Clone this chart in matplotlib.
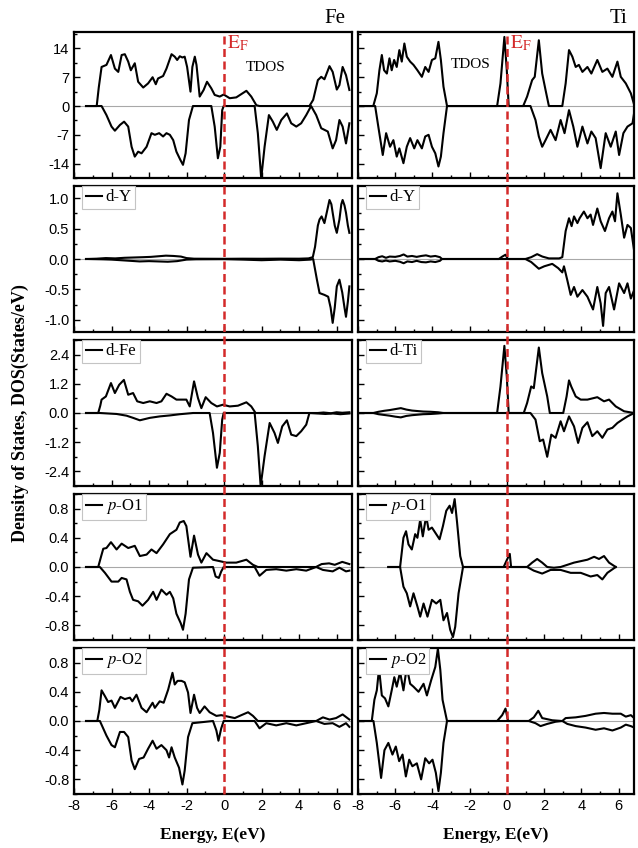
import matplotlib
matplotlib.use('Agg')
import matplotlib.pyplot as plt
import matplotlib.transforms as mtransforms
from matplotlib.lines import Line2D
from matplotlib.ticker import FixedLocator, MultipleLocator, FormatStrFormatter

plt.rcParams['font.family'] = 'Liberation Sans'
plt.rcParams['axes.unicode_minus'] = False
plt.rcParams['mathtext.fontset'] = 'stix'
SERIF = 'Liberation Serif'

# ---------------------------------------------------------------------------
# DOS curves: (energy eV, DOS) pairs, spin up / spin down
# ---------------------------------------------------------------------------
fe_tdos_up = [(-7.36, 0), (-6.79, 0), (-6.68, 4.5), (-6.53, 9.5), (-6.27, 10.0), (-6.03, 12.4), (-5.82, 9.1),
              (-5.64, 8.3), (-5.46, 12.4), (-5.29, 12.6), (-5.11, 10.8), (-4.97, 8.7), (-4.76, 10.4), (-4.58, 5.9),
              (-4.31, 4.5), (-4.05, 5.5), (-3.81, 7.0), (-3.64, 5.3), (-3.52, 6.7), (-3.25, 7.3), (-3.07, 9.1),
              (-2.80, 12.6), (-2.63, 12.0), (-2.50, 11.2), (-2.36, 12.1), (-2.22, 11.8), (-2.10, 12.0), (-1.97, 9.5),
              (-1.79, 3.5), (-1.69, 9.5), (-1.56, 12.0), (-1.47, 10.0), (-1.30, 2.3), (-1.09, 3.9), (-0.91, 5.9),
              (-0.68, 4.3), (-0.50, 2.7), (-0.23, 2.3), (-0.02, 2.8), (0.30, 1.9), (0.65, 2.1), (1.19, 3.7),
              (1.45, 2.3), (1.72, 0.2), (1.89, 0), (4.55, 0), (4.75, 1.5), (5.00, 6.3), (5.18, 7.1), (5.35, 6.5),
              (5.62, 9.7), (5.79, 8.3), (6.01, 4.0), (6.15, 5.1), (6.32, 9.5), (6.50, 7.5), (6.68, 3.9)]
fe_tdos_dn = [(-7.36, 0), (-6.53, 0), (-6.27, -2.2), (-6.0, -5.0), (-5.82, -6.0), (-5.55, -4.6), (-5.33, -3.8),
              (-5.11, -5.0), (-4.93, -9.9), (-4.76, -12.3), (-4.58, -11.1), (-4.40, -11.5), (-4.13, -9.9),
              (-3.87, -6.6), (-3.69, -7.0), (-3.46, -6.6), (-3.25, -7.4), (-3.07, -6.6), (-2.89, -7.0), (-2.71, -8.3),
              (-2.54, -11.1), (-2.33, -13.1), (-2.19, -14.3), (-2.05, -11.5), (-1.87, -3.4), (-1.66, 0), (-0.68, 0),
              (-0.50, -5.0), (-0.33, -12.7), (-0.20, -9.9), (-0.10, -1.0), (-0.02, 0), (1.63, 0), (1.80, -6.6),
              (1.98, -17.6), (2.16, -9.9), (2.39, -2.2), (2.60, -3.8), (2.81, -5.8), (3.05, -3.4), (3.35, -1.8),
              (3.58, -4.2), (3.85, -5.0), (4.11, -4.2), (4.38, -2.2), (4.64, 0), (4.91, -2.2), (5.18, -5.4),
              (5.53, -6.2), (5.79, -10.3), (5.97, -8.3), (6.15, -3.4), (6.32, -5.0), (6.50, -9.1), (6.68, -4.2)]

ti_tdos_up = [(-7.89, 0), (-7.18, 0), (-6.99, 3.1), (-6.85, 8.7), (-6.72, 12.4), (-6.60, 8.7), (-6.45, 7.9),
              (-6.31, 11.6), (-6.19, 8.7), (-6.06, 11.2), (-5.92, 9.5), (-5.78, 13.6), (-5.65, 10.8), (-5.51, 15.2),
              (-5.38, 12.0), (-5.20, 10.8), (-5.02, 10.0), (-4.81, 8.7), (-4.57, 7.1), (-4.39, 9.5), (-4.21, 8.3),
              (-4.03, 11.2), (-3.85, 11.6), (-3.68, 15.6), (-3.55, 11.2), (-3.41, 4.7), (-3.22, 0), (-0.53, 0),
              (-0.35, 5.5), (-0.14, 16.8), (-0.01, 8.7), (0.09, 0), (0.87, 0), (1.08, 2.3), (1.35, 6.3), (1.49, 7.1),
              (1.71, 16.0), (1.89, 7.9), (2.07, 3.9), (2.25, 0), (2.97, 0), (3.15, 5.5), (3.33, 13.6), (3.51, 12.0),
              (3.69, 9.5), (3.86, 10.0), (4.05, 8.3), (4.32, 9.5), (4.53, 7.9), (4.85, 11.2), (5.12, 8.3),
              (5.39, 9.1), (5.66, 7.1), (5.93, 10.8), (6.11, 7.1), (6.38, 5.5), (6.65, 3.1), (6.85, 0)]
ti_tdos_dn = [(-7.89, 0), (-7.08, 0), (-6.91, -5.0), (-6.67, -11.9), (-6.49, -6.6), (-6.28, -9.9), (-6.10, -8.3),
              (-5.92, -12.3), (-5.78, -10.3), (-5.56, -13.9), (-5.38, -9.9), (-5.20, -7.8), (-4.98, -10.3),
              (-4.81, -8.3), (-4.57, -10.3), (-4.39, -7.4), (-4.21, -7.0), (-4.03, -9.9), (-3.85, -11.5),
              (-3.68, -14.7), (-3.55, -12.3), (-3.41, -6.6), (-3.22, 0), (1.26, 0), (1.53, -3.4), (1.71, -7.4),
              (1.89, -9.9), (2.07, -8.3), (2.34, -5.8), (2.61, -8.3), (2.88, -3.4), (3.09, -6.6), (3.33, -1.0),
              (3.56, -5.0), (3.78, -9.9), (4.05, -5.0), (4.32, -9.1), (4.53, -6.2), (4.76, -7.8), (5.03, -15.1),
              (5.30, -6.6), (5.57, -9.9), (5.84, -6.2), (6.02, -11.9), (6.25, -6.6), (6.47, -5.0), (6.74, -4.2),
              (6.85, -1.0)]

fe_dy_up = [(-7.36, 0), (-6.8, 0.005), (-6.3, 0.015), (-5.8, 0.01), (-5.3, 0.02), (-4.8, 0.025), (-4.3, 0.03),
            (-3.9, 0.035), (-3.5, 0.045), (-3.1, 0.055), (-2.7, 0.05), (-2.3, 0.04), (-2.0, 0.015), (-1.6, 0.005),
            (0.0, 0.003), (1.0, 0.005), (2.0, 0.004), (3.0, 0.006), (4.0, 0.005), (4.5, 0.01), (4.73, 0.03),
            (4.85, 0.2), (5.0, 0.55), (5.09, 0.65), (5.2, 0.7), (5.35, 0.59), (5.5, 0.8), (5.62, 0.97), (5.72, 0.9),
            (5.79, 0.76), (5.9, 0.55), (6.01, 0.43), (6.15, 0.65), (6.25, 0.9), (6.32, 0.97), (6.42, 0.88),
            (6.50, 0.76), (6.6, 0.55), (6.68, 0.43)]
fe_dy_dn = [(-7.36, 0), (-6.5, -0.005), (-6.0, -0.01), (-5.5, -0.02), (-5.0, -0.03), (-4.5, -0.04), (-4.0, -0.035),
            (-3.5, -0.04), (-3.0, -0.045), (-2.5, -0.035), (-2.0, -0.01), (-1.5, -0.005), (0.0, -0.003), (1.0, -0.01),
            (2.0, -0.02), (3.0, -0.01), (4.0, -0.02), (4.6, -0.01), (4.75, 0), (4.82, -0.12), (4.95, -0.34),
            (5.09, -0.56), (5.35, -0.59), (5.55, -0.62), (5.68, -0.8), (5.79, -1.05), (5.9, -0.8), (6.01, -0.45),
            (6.15, -0.34), (6.3, -0.55), (6.42, -0.8), (6.50, -0.95), (6.6, -0.7), (6.68, -0.45)]

ti_dy_up = [(-7.9, 0), (-7.08, 0), (-6.9, 0.03), (-6.7, 0.045), (-6.5, 0.02), (-6.3, 0.04), (-6.0, 0.035),
            (-5.75, 0.05), (-5.55, 0.075), (-5.35, 0.04), (-5.1, 0.05), (-4.85, 0.035), (-4.6, 0.05), (-4.35, 0.06),
            (-4.1, 0.04), (-3.85, 0.05), (-3.6, 0.03), (-3.49, 0), (-0.44, 0), (-0.25, 0.04), (-0.08, 0.07),
            (0.05, 0), (0.99, 0), (1.3, 0.03), (1.62, 0.08), (1.9, 0.04), (2.25, 0.01), (2.8, 0.01), (2.97, 0.03),
            (3.15, 0.46), (3.33, 0.67), (3.47, 0.54), (3.60, 0.70), (3.78, 0.59), (3.90, 0.67), (4.13, 0.78),
            (4.32, 0.67), (4.49, 0.73), (4.62, 0.56), (4.85, 0.83), (5.03, 0.62), (5.26, 0.46), (5.48, 0.67),
            (5.66, 0.78), (5.80, 0.62), (5.93, 1.08), (6.11, 0.73), (6.29, 0.35), (6.47, 0.56), (6.65, 0.51),
            (6.83, 0.13)]
ti_dy_dn = [(-7.9, 0), (-7.08, 0), (-6.9, -0.03), (-6.7, -0.04), (-6.5, -0.025), (-6.3, -0.04), (-6.0, -0.03),
            (-5.75, -0.045), (-5.55, -0.07), (-5.35, -0.04), (-5.1, -0.05), (-4.85, -0.03), (-4.6, -0.05),
            (-4.35, -0.055), (-4.1, -0.04), (-3.85, -0.05), (-3.6, -0.03), (-3.49, 0), (0.99, 0), (1.3, -0.05),
            (1.71, -0.16), (2.0, -0.12), (2.43, -0.08), (2.75, -0.15), (2.97, -0.22), (3.06, -0.12), (3.24, -0.35),
            (3.42, -0.59), (3.60, -0.46), (3.78, -0.62), (4.05, -0.51), (4.32, -0.62), (4.62, -0.83), (4.85, -0.46),
            (5.03, -0.73), (5.16, -1.10), (5.30, -0.56), (5.48, -0.46), (5.75, -0.83), (6.02, -0.40), (6.29, -0.56),
            (6.47, -0.40), (6.65, -0.65), (6.83, -0.51)]

fe_dfe_up = [(-7.36, 0), (-6.71, 0), (-6.6, 0.3), (-6.53, 0.55), (-6.30, 0.68), (-6.03, 1.23), (-5.82, 0.82),
             (-5.59, 1.16), (-5.34, 1.36), (-5.11, 0.75), (-4.85, 0.82), (-4.63, 0.48), (-4.31, 0.41), (-3.96, 0.48),
             (-3.60, 0.41), (-3.34, 0.48), (-3.07, 0.79), (-2.80, 0.68), (-2.54, 0.55), (-2.01, 0.55), (-1.83, 0.27),
             (-1.60, 1.30), (-1.39, 0.61), (-1.21, 0.20), (-0.98, 0.65), (-0.68, 0.41), (-0.38, 0.27), (-0.06, 0.34),
             (0.30, 0.27), (0.74, 0.30), (1.19, 0.44), (1.45, 0.27), (1.68, 0), (5.0, 0), (5.3, 0.02), (5.7, -0.01),
             (6.0, 0.03), (6.3, 0.01), (6.68, 0.03)]
fe_dfe_dn = [(-7.36, 0), (-6.62, 0), (-5.73, -0.04), (-5.20, -0.11), (-4.85, -0.2), (-4.49, -0.3), (-3.96, -0.2),
             (-3.43, -0.14), (-2.89, -0.1), (-2.36, -0.05), (-1.65, 0), (-0.77, 0), (-0.59, -0.82), (-0.38, -2.25),
             (-0.23, -1.64), (-0.10, -0.27), (-0.02, 0), (1.63, 0), (1.80, -1.36), (1.95, -3.0), (2.16, -1.77),
             (2.43, -0.41), (2.69, -0.82), (2.87, -1.23), (3.10, -0.55), (3.35, -0.3), (3.58, -0.89), (3.85, -0.95),
             (4.11, -0.75), (4.38, -0.48), (4.55, 0), (5.0, -0.02), (5.4, -0.04), (5.8, -0.02), (6.2, -0.05),
             (6.68, -0.02)]

ti_dti_up = [(-7.9, 0), (-7.18, 0), (-6.9, 0.05), (-6.6, 0.09), (-6.3, 0.12), (-6.0, 0.16), (-5.7, 0.2),
             (-5.4, 0.14), (-5.1, 0.1), (-4.8, 0.08), (-4.5, 0.06), (-4.1, 0.05), (-3.7, 0.03), (-3.41, 0),
             (-0.53, 0), (-0.35, 1.09), (-0.14, 2.76), (-0.01, 1.50), (0.09, 0), (0.90, 0), (1.08, 0.41),
             (1.30, 1.09), (1.44, 1.02), (1.71, 2.69), (1.89, 1.64), (2.16, 0.68), (2.30, 0), (3.02, 0), (3.20, 0.68),
             (3.33, 1.34), (3.45, 1.09), (3.69, 0.68), (3.96, 0.55), (4.32, 0.55), (4.85, 0.65), (5.21, 0.48),
             (5.48, 0.55), (5.84, 0.27), (6.29, 0.07), (6.83, 0)]
ti_dti_dn = [(-7.9, 0), (-7.18, 0), (-6.9, -0.05), (-6.6, -0.08), (-6.3, -0.11), (-6.0, -0.15), (-5.7, -0.18),
             (-5.4, -0.12), (-5.1, -0.09), (-4.8, -0.07), (-4.5, -0.05), (-4.1, -0.04), (-3.7, -0.02), (-3.41, 0),
             (1.26, 0), (1.53, -0.27), (1.76, -1.16), (1.94, -1.09), (2.16, -1.80), (2.38, -0.89), (2.61, -1.02),
             (2.88, -0.34), (3.06, -0.75), (3.33, -0.14), (3.60, -0.55), (3.82, -1.23), (4.05, -0.61), (4.32, -0.38),
             (4.58, -0.95), (4.85, -0.75), (5.12, -1.02), (5.39, -0.68), (5.66, -0.61), (5.93, -0.41), (6.20, -0.27),
             (6.47, -0.14), (6.83, 0)]

fe_po1_up = [(-7.36, 0), (-6.71, 0), (-6.55, 0.15), (-6.44, 0.25), (-6.27, 0.26), (-6.03, 0.34), (-5.73, 0.24),
             (-5.46, 0.32), (-5.11, 0.26), (-4.76, 0.29), (-4.49, 0.15), (-4.13, 0.17), (-3.87, 0.24), (-3.60, 0.19),
             (-3.25, 0.31), (-2.89, 0.45), (-2.54, 0.51), (-2.36, 0.61), (-2.15, 0.63), (-2.01, 0.56), (-1.79, 0.14),
             (-1.60, 0.43), (-1.39, 0.17), (-1.21, 0.06), (-0.94, 0.19), (-0.59, 0.10), (-0.23, 0.08), (0.12, 0.06),
             (0.65, 0.06), (1.19, 0.10), (1.54, 0.03), (1.80, 0), (4.9, 0), (5.2, 0.04), (5.6, 0.05), (5.9, 0.03),
             (6.3, 0.07), (6.68, 0.04)]
fe_po1_dn = [(-7.36, 0), (-6.62, 0), (-6.35, -0.08), (-6.0, -0.2), (-5.64, -0.2), (-5.46, -0.15), (-5.2, -0.17),
             (-5.02, -0.34), (-4.85, -0.45), (-4.58, -0.47), (-4.35, -0.53), (-4.05, -0.45), (-3.78, -0.34),
             (-3.60, -0.45), (-3.34, -0.31), (-3.07, -0.38), (-2.89, -0.34), (-2.71, -0.43), (-2.54, -0.64),
             (-2.31, -0.77), (-2.19, -0.86), (-2.05, -0.64), (-1.87, -0.17), (-1.66, -0.01), (-0.59, 0),
             (-0.45, -0.13), (-0.28, -0.15), (-0.15, -0.06), (-0.02, 0), (1.63, 0), (1.89, -0.12), (2.25, -0.04),
             (2.78, -0.03), (3.32, -0.05), (3.85, -0.03), (4.38, -0.05), (4.91, 0), (5.27, -0.04), (5.79, -0.06),
             (6.15, -0.01), (6.50, -0.06), (6.68, -0.05)]

ti_po1_up = [(-6.37, 0), (-5.74, 0), (-5.56, 0.40), (-5.42, 0.49), (-5.29, 0.31), (-5.11, 0.24), (-4.93, 0.45),
             (-4.81, 0.40), (-4.66, 0.65), (-4.52, 0.42), (-4.34, 0.70), (-4.21, 0.51), (-4.03, 0.54), (-3.85, 0.47),
             (-3.62, 0.38), (-3.44, 0.56), (-3.26, 0.77), (-3.08, 0.84), (-2.95, 0.74), (-2.81, 0.93), (-2.68, 0.61),
             (-2.51, 0.15), (-2.36, 0), (-0.18, 0), (0.0, 0.10), (0.15, 0.18), (0.22, 0), (1.08, 0), (1.35, 0.06),
             (1.62, 0.11), (1.89, 0.06), (2.16, 0.0), (2.52, -0.01), (2.88, 0), (3.24, 0.03), (3.60, 0.06),
             (3.96, 0.08), (4.32, 0.10), (4.68, 0.14), (4.94, 0.11), (5.21, 0.15), (5.48, 0.06), (5.84, 0)]
ti_po1_dn = [(-6.37, 0), (-5.74, 0), (-5.56, -0.27), (-5.38, -0.36), (-5.20, -0.54), (-5.02, -0.36), (-4.81, -0.54),
             (-4.66, -0.68), (-4.48, -0.50), (-4.27, -0.68), (-4.03, -0.45), (-3.80, -0.50), (-3.58, -0.45),
             (-3.41, -0.73), (-3.22, -0.63), (-3.05, -0.86), (-2.90, -0.96), (-2.78, -0.82), (-2.60, -0.36),
             (-2.36, 0), (1.08, 0), (1.44, -0.05), (1.89, -0.09), (2.34, -0.04), (2.88, -0.04), (3.42, -0.08),
             (3.96, -0.08), (4.49, -0.13), (4.85, -0.11), (5.12, -0.17), (5.39, -0.08), (5.84, 0)]

fe_po2_up = [(-7.36, 0), (-6.76, 0), (-6.65, 0.15), (-6.53, 0.42), (-6.35, 0.34), (-6.18, 0.26), (-6.0, 0.28),
             (-5.82, 0.18), (-5.52, 0.33), (-5.29, 0.30), (-5.02, 0.32), (-4.89, 0.27), (-4.67, 0.36), (-4.40, 0.18),
             (-4.13, 0.12), (-3.81, 0.25), (-3.69, 0.18), (-3.43, 0.27), (-3.22, 0.25), (-2.98, 0.43), (-2.75, 0.66),
             (-2.63, 0.50), (-2.48, 0.55), (-2.27, 0.55), (-2.10, 0.53), (-1.92, 0.39), (-1.79, 0.11), (-1.60, 0.36),
             (-1.44, 0.18), (-1.30, 0.11), (-1.04, 0.20), (-0.77, 0.12), (-0.41, 0.07), (-0.15, 0.08), (0.21, 0.06),
             (0.57, 0.04), (0.92, 0.08), (1.28, 0.12), (1.54, 0.07), (1.80, 0), (4.91, 0), (5.27, 0.05), (5.62, 0.02),
             (5.97, 0.04), (6.32, 0.09), (6.68, 0.02)]
fe_po2_dn = [(-7.36, 0), (-6.62, 0), (-6.27, -0.2), (-6.0, -0.33), (-5.82, -0.36), (-5.55, -0.15), (-5.33, -0.15),
             (-5.11, -0.22), (-4.93, -0.54), (-4.76, -0.66), (-4.53, -0.52), (-4.29, -0.50), (-4.05, -0.38),
             (-3.81, -0.27), (-3.60, -0.38), (-3.34, -0.33), (-3.07, -0.40), (-2.93, -0.50), (-2.80, -0.36),
             (-2.63, -0.50), (-2.40, -0.64), (-2.22, -0.87), (-2.10, -0.68), (-1.92, -0.22), (-1.69, -0.03),
             (-0.59, 0), (-0.41, -0.13), (-0.30, -0.27), (-0.15, -0.10), (-0.02, 0), (1.63, 0), (1.89, -0.10),
             (2.25, -0.03), (2.78, -0.06), (3.32, -0.03), (3.85, -0.06), (4.38, -0.03), (4.91, 0), (5.35, -0.04),
             (5.79, -0.03), (6.15, -0.08), (6.50, -0.03), (6.68, -0.08)]

ti_po2_up = [(-7.95, 0), (-7.26, 0), (-7.12, 0.29), (-6.99, 0.42), (-6.87, 0.72), (-6.72, 0.35), (-6.55, 0.31),
             (-6.37, 0.20), (-6.19, 0.42), (-6.05, 0.60), (-5.92, 0.47), (-5.74, 0.67), (-5.56, 0.42), (-5.38, 0.74),
             (-5.20, 0.51), (-5.02, 0.47), (-4.75, 0.40), (-4.48, 0.51), (-4.30, 0.35), (-4.07, 0.56), (-3.85, 0.74),
             (-3.71, 0.99), (-3.58, 0.70), (-3.46, 0.29), (-3.22, 0), (-0.53, 0), (-0.26, 0.08), (-0.08, 0.17),
             (0.06, 0), (1.17, 0), (1.44, 0.05), (1.68, 0.14), (1.89, 0.04), (2.43, 0.01), (2.97, 0), (3.15, 0.04),
             (3.69, 0.05), (4.22, 0.07), (4.76, 0.10), (5.21, 0.11), (5.66, 0.10), (6.11, 0.10), (6.38, 0.06),
             (6.65, 0.08), (6.83, 0.04)]
ti_po2_dn = [(-7.95, 0), (-7.17, 0), (-6.99, -0.30), (-6.76, -0.78), (-6.58, -0.40), (-6.37, -0.30), (-6.15, -0.46),
             (-5.97, -0.35), (-5.79, -0.55), (-5.61, -0.46), (-5.43, -0.76), (-5.25, -0.53), (-5.08, -0.62),
             (-4.84, -0.58), (-4.61, -0.80), (-4.39, -0.51), (-4.18, -0.58), (-4.00, -0.53), (-3.82, -0.71),
             (-3.68, -0.96), (-3.55, -0.71), (-3.41, -0.30), (-3.22, 0), (1.17, 0), (1.53, -0.03), (1.80, -0.07),
             (2.16, -0.04), (2.61, -0.01), (2.97, 0), (3.24, -0.04), (3.69, -0.07), (4.22, -0.09), (4.76, -0.12),
             (5.21, -0.10), (5.66, -0.13), (6.11, -0.09), (6.38, -0.05), (6.65, -0.07), (6.83, -0.09)]

# columns: Fe (left), Ti (right); rows top to bottom
col_names = ['Fe', 'Ti']
curves = [
    [(fe_tdos_up, fe_tdos_dn), (fe_dy_up, fe_dy_dn), (fe_dfe_up, fe_dfe_dn), (fe_po1_up, fe_po1_dn), (fe_po2_up, fe_po2_dn)],
    [(ti_tdos_up, ti_tdos_dn), (ti_dy_up, ti_dy_dn), (ti_dti_up, ti_dti_dn), (ti_po1_up, ti_po1_dn), (ti_po2_up, ti_po2_dn)],
]
legend_labels = [
    [None, 'd-Y', 'd-Fe', r'$\mathit{p}$-O1', r'$\mathit{p}$-O2'],
    [None, 'd-Y', 'd-Ti', r'$\mathit{p}$-O1', r'$\mathit{p}$-O2'],
]
# y limits, tick values, minor step, tick format per row
y_lims = [(-17.5, 18), (-1.2, 1.2), (-3, 3), (-1, 1), (-1, 1)]
y_ticks = [[-14, -7, 0, 7, 14], [-1.0, -0.5, 0, 0.5, 1.0], [-2.4, -1.2, 0, 1.2, 2.4],
           [-0.8, -0.4, 0, 0.4, 0.8], [-0.8, -0.4, 0, 0.4, 0.8]]
y_minor = [3.5, 0.25, 0.6, 0.2, 0.2]
y_fmt = ['%d', '%.1f', '%.1f', '%.1f', '%.1f']
x_ticks = [-8, -6, -4, -2, 0, 2, 4, 6]
tdos_text_pos = [(2.2, 9.3), (-1.95, 10.2)]

W, H = 638, 848
fig = plt.figure(figsize=(W / 100, H / 100), dpi=100)

col_left = [74, 358]
col_width = [278, 276]
row_top = [32, 186, 340, 494, 648]
row_h = 146

axes = [[None] * 5 for _ in range(2)]
for c in range(2):
    for r in range(5):
        ax = fig.add_axes([col_left[c] / W, 1 - (row_top[r] + row_h) / H, col_width[c] / W, row_h / H])
        axes[c][r] = ax
        up, dn = curves[c][r]
        ax.axhline(0, color='#a8a8a8', lw=0.8, zorder=1)
        ln, = ax.plot([p[0] for p in up], [p[1] for p in up], color='black', lw=1.5, zorder=3)
        ax.plot([p[0] for p in dn], [p[1] for p in dn], color='black', lw=1.5, zorder=3)

        ax.set_xlim(-8, 6.82)
        ax.set_ylim(*y_lims[r])
        ax.xaxis.set_major_locator(FixedLocator(x_ticks))
        ax.xaxis.set_minor_locator(MultipleLocator(1))
        ax.yaxis.set_major_locator(FixedLocator(y_ticks[r]))
        ax.yaxis.set_minor_locator(MultipleLocator(y_minor[r]))
        ax.yaxis.set_major_formatter(FormatStrFormatter(y_fmt[r]))
        ax.tick_params(which='both', direction='in', top=False, right=False, width=1.0, labelsize=10.5)
        ax.tick_params(which='major', length=4)
        ax.tick_params(which='minor', length=2.2)
        if r < 4:
            ax.tick_params(labelbottom=False)
        if c == 1:
            ax.tick_params(labelleft=False)
        for s in ax.spines.values():
            s.set_linewidth(1.6)

        if legend_labels[c][r]:
            leg = ax.legend([ln], [legend_labels[c][r]], loc='upper left', bbox_to_anchor=(0.03, 1.0),
                            borderaxespad=0, frameon=True, fancybox=False, framealpha=1,
                            edgecolor='#c4c4c4', handlelength=1.0, handletextpad=0.2, borderpad=0.2,
                            prop={'family': SERIF, 'size': 12})
            leg.get_frame().set_linewidth(0.8)
        else:
            tx, ty = tdos_text_pos[c]
            ax.text(tx, ty, 'TDOS', ha='center', va='center', family=SERIF, fontsize=11)
            ax.text(0.15, 14.0, r'$\mathrm{E_F}$', color='#d42a2a', fontsize=14, ha='left', va='baseline')

# Fermi level dashed line across each column
y_bot = 1 - (row_top[-1] + row_h) / H
y_top = 1 - row_top[0] / H
for c in range(2):
    trans = mtransforms.blended_transform_factory(axes[c][4].transData, fig.transFigure)
    fig.add_artist(Line2D([0, 0], [y_bot, y_top], transform=trans, color='#d42a2a', lw=1.8,
                          linestyle=(0, (3.2, 1.8)), zorder=5))

fig.text(345 / W, 1 - 23 / H, col_names[0], ha='right', va='baseline', family=SERIF, fontsize=15)
fig.text(627 / W, 1 - 23 / H, col_names[1], ha='right', va='baseline', family=SERIF, fontsize=15)

fig.text(20 / W, 1 - 413 / H, 'Density of States, DOS(States/eV)', rotation=90, ha='center', va='center',
         family=SERIF, fontweight='bold', fontsize=13)
for c in range(2):
    xc = (col_left[c] + col_width[c] / 2) / W
    fig.text(xc, 1 - 835 / H, 'Energy, E(eV)', ha='center', va='center', family=SERIF,
             fontweight='bold', fontsize=12.5)

fig.savefig('out.png', dpi=100)
